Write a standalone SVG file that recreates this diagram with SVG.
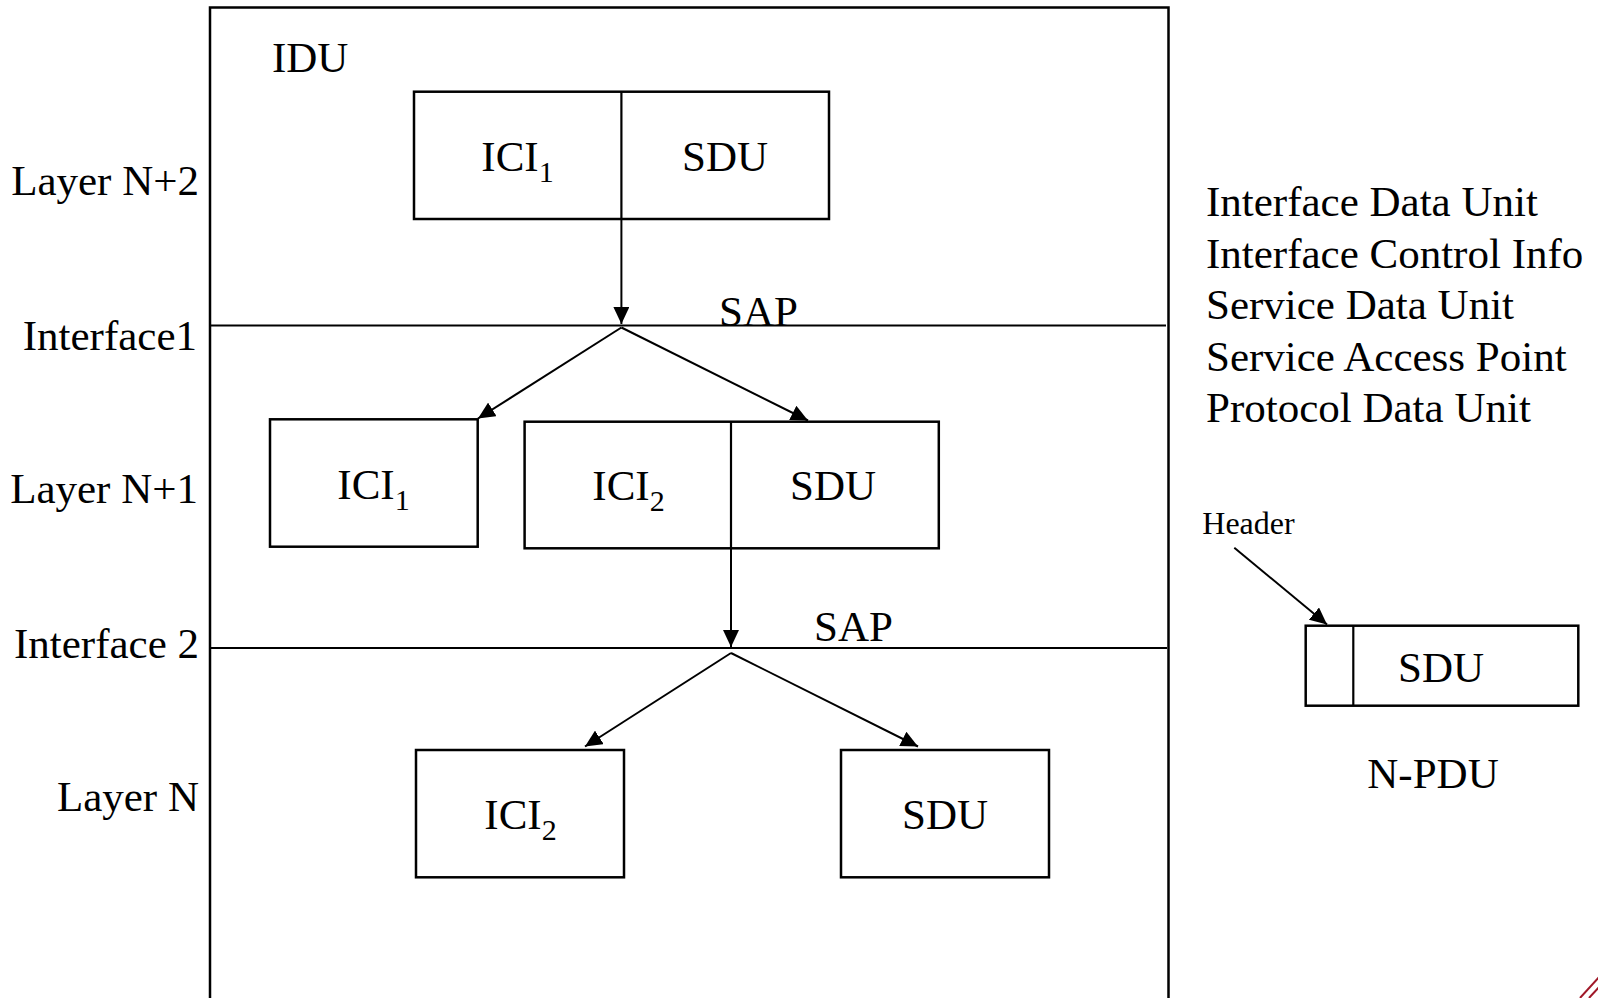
<svg xmlns="http://www.w3.org/2000/svg" width="1598" height="998" viewBox="0 0 1598 998">
<defs>
<style>
text{font-family:"Liberation Serif","Times New Roman",serif;fill:#000;}
.t{font-size:43px;}
.m{text-anchor:middle;}
.e{text-anchor:end;}
.sub{font-size:30px;}
.box{fill:none;stroke:#000;stroke-width:2.5;}
.ln{fill:none;stroke:#000;stroke-width:2.2;}
.arr{fill:none;stroke:#000;stroke-width:2;marker-end:url(#ah);}
</style>
<marker id="ah" markerUnits="userSpaceOnUse" markerWidth="18" markerHeight="16" viewBox="0 0 18 16" refX="17" refY="8" orient="auto">
<path d="M0,0 L17,8 L0,16 Z" fill="#000"/>
</marker>
</defs>
<rect width="1598" height="998" fill="#fff"/>

<g id="frame">
<path class="box" d="M210,1005 V7.5 H1168.5 V1005"/>
<line class="ln" x1="210" y1="325.5" x2="1166" y2="325.5"/>
<line class="ln" x1="210" y1="648" x2="1167" y2="648"/>
</g>

<g id="labels">
<text class="t" x="272" y="72">IDU</text>
<text class="t e" x="199" y="195">Layer N+2</text>
<text class="t e" x="197" y="350">Interface1</text>
<text class="t e" x="198" y="503">Layer N+1</text>
<text class="t e" x="199" y="658">Interface 2</text>
<text class="t e" x="199" y="811">Layer N</text>
<text class="t" x="719" y="326">SAP</text>
<text class="t" x="814" y="641">SAP</text>
</g>

<g id="legend">
<text class="t" x="1206" y="216">Interface Data Unit</text>
<text class="t" x="1206" y="267.5">Interface Control Info</text>
<text class="t" x="1206" y="319">Service Data Unit</text>
<text class="t" x="1206" y="370.5">Service Access Point</text>
<text class="t" x="1206" y="422">Protocol Data Unit</text>
</g>

<g id="idu-n2">
<rect class="box" x="414" y="91.7" width="415" height="127.3"/>
<line class="ln" x1="621.4" y1="91.7" x2="621.4" y2="219"/>
<text class="t m" x="517.5" y="171">ICI<tspan class="sub" dy="11">1</tspan></text>
<text class="t m" x="725" y="171">SDU</text>
</g>

<g id="ici1-n1">
<rect class="box" x="270" y="419.3" width="207.7" height="127.4"/>
<text class="t m" x="373.5" y="499">ICI<tspan class="sub" dy="11">1</tspan></text>
</g>

<g id="ici2sdu-n1">
<rect class="box" x="524.6" y="421.7" width="414.2" height="126.6"/>
<line class="ln" x1="731" y1="421.7" x2="731" y2="548.3"/>
<text class="t m" x="628.5" y="500">ICI<tspan class="sub" dy="11">2</tspan></text>
<text class="t m" x="833" y="500">SDU</text>
</g>

<g id="ici2-n">
<rect class="box" x="416" y="750" width="208" height="127.3"/>
<text class="t m" x="520.5" y="829">ICI<tspan class="sub" dy="11">2</tspan></text>
</g>

<g id="sdu-n">
<rect class="box" x="841" y="750" width="208" height="127.3"/>
<text class="t m" x="945" y="829">SDU</text>
</g>

<g id="npdu">
<rect class="box" x="1305.7" y="625.7" width="272.6" height="80"/>
<line class="ln" x1="1353.3" y1="625.7" x2="1353.3" y2="705.7"/>
<text class="t m" x="1441" y="682">SDU</text>
<text class="t m" x="1433" y="788">N-PDU</text>
<text x="1202.3" y="534" style="font-size:32px">Header</text>
</g>

<g id="connectors">
<line class="arr" x1="621.4" y1="219" x2="621.4" y2="324"/>
<line class="arr" x1="621.4" y1="327.5" x2="478" y2="418.5"/>
<line class="arr" x1="621.4" y1="327.5" x2="808" y2="420.5"/>
<line class="arr" x1="731" y1="548.3" x2="731" y2="647"/>
<line class="arr" x1="731" y1="653" x2="585" y2="746.5"/>
<line class="arr" x1="731" y1="653" x2="918" y2="746.5"/>
<line class="arr" x1="1234.3" y1="547.7" x2="1327" y2="624.5"/>
</g>

<g id="corner-deco">
<line x1="1580" y1="998" x2="1600" y2="976" stroke="#a01828" stroke-width="2"/>
<line x1="1589" y1="998" x2="1600" y2="986" stroke="#a01828" stroke-width="2"/>
</g>
</svg>
